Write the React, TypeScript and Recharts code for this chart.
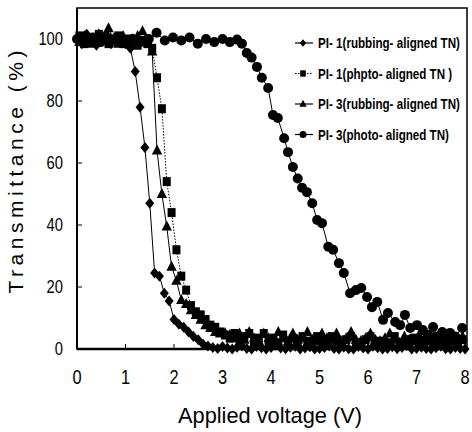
import React from 'react';
import { LineChart, Line, XAxis, YAxis, ReferenceArea, Legend } from 'recharts';

const voltageA = [
  0, 0.1, 0.2, 0.3, 0.4, 0.5, 0.6, 0.7, 0.8, 0.9,
  1.0, 1.1, 1.2, 1.3, 1.4, 1.5, 1.6, 1.7, 1.8, 1.9,
  2.0, 2.1, 2.2, 2.3, 2.4, 2.5, 2.6, 2.7, 2.8, 2.9,
  3.0, 3.1, 3.2, 3.3, 3.4, 3.5, 3.6, 3.7, 3.8, 3.9,
  4.0, 4.1, 4.2, 4.3, 4.4, 4.5, 4.6, 4.7, 4.8, 4.9,
  5.0, 5.1, 5.2, 5.3, 5.4, 5.5, 5.6, 5.7, 5.8, 5.9,
  6.0, 6.1, 6.2, 6.3, 6.4, 6.5, 6.6, 6.7, 6.8, 6.9,
  7.0, 7.1, 7.2, 7.3, 7.4, 7.5, 7.6, 7.7, 7.8, 7.9, 8.0,
];

const voltageB = [
  0.05, 0.15, 0.25, 0.35, 0.45, 0.55, 0.65, 0.75, 0.85, 0.95,
  1.05, 1.15, 1.25, 1.35, 1.45, 1.55, 1.65, 1.75, 1.85, 1.95,
  2.05, 2.15, 2.25, 2.35, 2.45, 2.55, 2.65, 2.75, 2.85, 2.95,
  3.05, 3.15, 3.25, 3.35, 3.45, 3.55, 3.65, 3.75, 3.85, 3.95,
  4.05, 4.15, 4.25, 4.35, 4.45, 4.55, 4.65, 4.75, 4.85, 4.95,
  5.05, 5.15, 5.25, 5.35, 5.45, 5.55, 5.65, 5.75, 5.85, 5.95,
  6.05, 6.15, 6.25, 6.35, 6.45, 6.55, 6.65, 6.75, 6.85, 6.95,
  7.05, 7.15, 7.25, 7.35, 7.45, 7.55, 7.65, 7.75, 7.85, 7.95,
];

// PI-1 (rubbing-aligned TN) — diamonds, on voltageA
const pi1Rubbing = [
  100, 98.5, 101.5, 100, 98, 100.5, 101.5, 98.5, 100, 99.5,
  98.5, 97, 89.5, 78, 65, 47, 24.5, 23.5, 18, 15.5,
  9.5, 8, 7, 5.5, 4, 3, 1.5, 1, 0.5, 0.2,
  0.8, 0.3, 0, 0.6, 1, 0.2, 0, 0.8, 0.4, 0,
  0.5, 1.2, 0.3, 0.1, 0.6, 0.9, 0, 0.3, 0.7, 0,
  0.2, 0.5, 1, 0.2, 0, 0.6, 0.1, 0, 0.8, 0.3,
  0, 0.9, 0.4, 0, 0.2, 0.7, 0.1, 0.5, 1.1, 0,
  0.2, 0.6, 0.2, 0, 0.4, 0.9, 0.1, 0, 0.5, 0.2, 0,
];

// PI-1 (photo-aligned TN) — squares, on voltageB
const pi1Photo = [
  101, 98.5, 100.5, 99, 101.5, 100, 98.5, 100, 101, 98.5,
  100, 99, 98, 99.5, 98.5, 97, 87.5, 77.5, 54, 44,
  32, 23.5, 19, 14, 12, 11, 9.5, 7.7, 7, 5.5,
  4.5, 3.5, 5, 2.5, 4, 5, 2.5, 3.5, 5, 2.5,
  3.5, 2, 4.5, 2.5, 3.5, 2, 4, 2.5, 1.5, 4,
  2.5, 2, 4, 2.5, 1.5, 3, 4, 2, 1.5, 3,
  4, 2, 2.5, 1.5, 2, 4, 2, 1.5, 3, 3.5,
  2, 1.5, 3, 2, 4, 1.5, 2, 3, 1.5, 3,
];

// PI-3 (rubbing-aligned TN) — triangles, on voltageB
const pi3Rubbing = [
  99, 101, 98.5, 100, 101.5, 100, 103.5, 100, 98.5, 101,
  99, 100, 101, 102.5, 99.5, 96, 64, 50, 39.5, 26.5,
  22, 15.8, 14.5, 12.5, 11, 9.4, 7.7, 6.8, 5.5, 5,
  5.2, 4.5, 3.5, 5, 3, 5.5, 3.5, 2.5, 5, 3.5,
  3, 5.5, 3.5, 2.5, 5, 3, 3.5, 5.5, 3, 2.5,
  5, 3.5, 3, 5, 2.5, 3.5, 5.5, 3, 2.5, 3.5,
  5, 3, 2.5, 3.5, 5, 3, 2, 4, 3, 2.5,
  4.5, 3, 2.5, 4, 2, 3, 4.5, 2.5, 3, 4,
];

// PI-3 (photo-aligned TN) — circles, own voltages
const pi3PhotoVoltage = [
  0, 0.16, 0.33, 0.49, 0.66, 0.82, 0.98, 1.15, 1.31, 1.48,
  1.64, 1.81, 1.98, 2.15, 2.32, 2.49, 2.66, 2.83, 3.0, 3.15,
  3.3, 3.4, 3.5, 3.6, 3.71, 3.81, 3.94, 4.04, 4.14, 4.27,
  4.35, 4.45, 4.55, 4.64, 4.74, 4.85, 4.95, 5.05, 5.18, 5.28,
  5.4, 5.5, 5.63, 5.75, 5.86, 5.98, 6.08, 6.19, 6.31, 6.41,
  6.56, 6.66, 6.76, 6.87, 7.01, 7.13, 7.24, 7.34, 7.44, 7.53,
  7.62, 7.69, 7.8, 7.94,
];
const pi3Photo = [
  100, 99.5, 100.5, 99, 100, 100.5, 99.5, 100, 99, 100,
  102, 99.5, 100.5, 99.5, 100.5, 98.5, 100, 99, 100, 99,
  99.8, 98.5, 95.5, 94, 91, 87.5, 84.2, 75.5, 74.5, 68,
  63.5, 58.7, 55, 52, 50.6, 47, 41.6, 40.6, 33, 32,
  27.7, 24.5, 18, 19, 19.7, 16.8, 13.5, 15.2, 9.4, 11.6,
  8.7, 7.7, 11, 6.8, 7.7, 6.1, 4.5, 7.1, 4, 5.5,
  3.5, 5.2, 4, 6.8,
];

const xTicks = [0, 1, 2, 3, 4, 5, 6, 7, 8];
const yTicks = [0, 20, 40, 60, 80, 100];
const seriesNames = [
  'PI- 1(rubbing- aligned TN)',
  'PI- 1(phpto- aligned TN )',
  'PI- 3(rubbing-  aligned TN)',
  'PI- 3(photo- aligned TN)',
];
const markerKinds = ['diamond', 'square', 'triangle', 'circle'];

const zip = (xs: number[], ys: number[]) => ys.map((y, i) => ({ x: xs[i], y }));

const FONT = "'Liberation Sans', Arial, sans-serif";

function Marker({ kind, cx, cy, scale = 1 }: { kind: string; cx: number; cy: number; scale?: number }) {
  const s = scale;
  if (kind === 'diamond') {
    return <polygon points={`${cx},${cy - 5.5 * s} ${cx + 4.5 * s},${cy} ${cx},${cy + 5.5 * s} ${cx - 4.5 * s},${cy}`} fill="#000" />;
  }
  if (kind === 'square') {
    return <rect x={cx - 4 * s} y={cy - 4.5 * s} width={8 * s} height={9 * s} fill="#000" />;
  }
  if (kind === 'triangle') {
    return <polygon points={`${cx},${cy - 6 * s} ${cx + 5.2 * s},${cy + 4 * s} ${cx - 5.2 * s},${cy + 4 * s}`} fill="#000" />;
  }
  return <circle cx={cx} cy={cy} r={5 * s} fill="#000" />;
}

const makeDot = (kind: string) => (props: any) => {
  const { cx, cy, index } = props;
  if (cx == null || cy == null || isNaN(cx) || isNaN(cy)) return <g key={`e${index}`} />;
  return <Marker key={`m${index}`} kind={kind} cx={cx} cy={cy} />;
};

const XTick = (props: any) => {
  const { x, y, payload } = props;
  return (
    <g transform={`translate(${x},${y}) scale(0.82,1)`}>
      <text x={0} y={0} dy="0.71em" textAnchor="middle" fontFamily={FONT} fontSize={20} fill="#000">
        {payload.value}
      </text>
    </g>
  );
};

const YTick = (props: any) => {
  const { x, y, payload } = props;
  return (
    <g transform={`translate(${x},${y}) scale(0.82,1)`}>
      <text x={0} y={0} dy="0.36em" textAnchor="end" fontFamily={FONT} fontSize={18} fill="#000">
        {payload.value}
      </text>
    </g>
  );
};

const renderLegend = () => (
  <svg width={172} height={110} style={{ display: 'block', overflow: 'visible' }}>
    {seriesNames.map((name, i) => {
      const y = 8 + i * 30.5;
      return (
        <g key={name}>
          <line x1={2} x2={20} y1={y} y2={y} stroke="#000" strokeWidth={1.2} strokeDasharray={i === 1 ? '1.5 1.5' : undefined} />
          <Marker kind={markerKinds[i]} cx={10} cy={y} scale={0.7} />
          <g transform={`translate(25,${y}) scale(0.83,1)`}>
            <text x={0} y={0} dy="0.36em" fontFamily={FONT} fontWeight="bold" fontSize={14} fill="#000">
              {name}
            </text>
          </g>
        </g>
      );
    })}
  </svg>
);

export default function App() {
  return (
    <div style={{ position: 'absolute', left: 0, top: 0, width: 472, height: 432, overflow: 'hidden', background: '#fff' }}>
      <LineChart width={472} height={432} margin={{ top: 8, right: 5, left: 17, bottom: 3 }}>
        <XAxis
          type="number"
          dataKey="x"
          domain={[0, 8.04]}
          ticks={xTicks}
          allowDecimals={false}
          height={80}
          axisLine={{ stroke: '#000', strokeWidth: 2.5 }}
          tickLine={{ stroke: '#000' }}
          tickSize={-5}
          tickMargin={26}
          tick={<XTick />}
          label={{
            content: () => (
              <text x={270} y={423} textAnchor="middle" fontFamily={FONT} fontSize={22} textLength={184} lengthAdjust="spacingAndGlyphs" fill="#000">
                Applied voltage (V)
              </text>
            ),
          }}
        />
        <YAxis
          type="number"
          dataKey="y"
          domain={[0, 110]}
          ticks={yTicks}
          width={60}
          axisLine={{ stroke: '#000', strokeWidth: 2 }}
          tickLine={{ stroke: '#000' }}
          tickSize={-5}
          tickMargin={19}
          tick={<YTick />}
          label={{
            content: () => (
              <text
                x={23}
                y={172}
                transform="rotate(-90 23 172)"
                textAnchor="middle"
                fontFamily={FONT}
                fontSize={21}
                textLength={243}
                lengthAdjust="spacing"
                fill="#000"
              >
                Transmittance (%)
              </text>
            ),
          }}
        />
        <ReferenceArea x1={0} x2={8.04} y1={0} y2={110} fill="none" stroke="#000" strokeWidth={1.5} ifOverflow="visible" />
        <Legend
          layout="vertical"
          align="center"
          verticalAlign="middle"
          content={renderLegend}
          wrapperStyle={{ left: 293, top: 35, width: 172, height: 110 }}
        />
        <Line data={zip(voltageA, pi1Rubbing)} dataKey="y" name={seriesNames[0]} stroke="#000" strokeWidth={1} dot={makeDot('diamond')} activeDot={false} isAnimationActive={false} />
        <Line data={zip(voltageB, pi1Photo)} dataKey="y" name={seriesNames[1]} stroke="#000" strokeWidth={1} strokeDasharray="1.5 1.5" dot={makeDot('square')} activeDot={false} isAnimationActive={false} />
        <Line data={zip(voltageB, pi3Rubbing)} dataKey="y" name={seriesNames[2]} stroke="#000" strokeWidth={1} dot={makeDot('triangle')} activeDot={false} isAnimationActive={false} />
        <Line data={zip(pi3PhotoVoltage, pi3Photo)} dataKey="y" name={seriesNames[3]} stroke="#000" strokeWidth={1} dot={makeDot('circle')} activeDot={false} isAnimationActive={false} />
      </LineChart>
    </div>
  );
}
